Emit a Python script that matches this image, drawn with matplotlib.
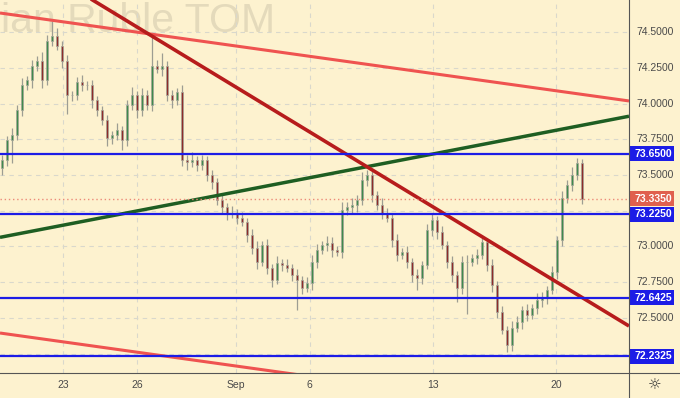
import matplotlib
matplotlib.use('Agg')
import matplotlib.pyplot as plt
from matplotlib.patches import Rectangle
from matplotlib.lines import Line2D

plt.rcParams['font.family'] = ['Liberation Sans', 'DejaVu Sans']

# candle data (USD/RUB TOM, about 5 bars per trading day, Aug 23 = day 0)
first_open = 73.55
closes = [73.603, 73.743, 73.778, 73.953, 74.128, 74.163, 74.267, 74.302, 74.163, 74.442,
          74.477, 74.407, 74.302, 74.058, 74.058, 74.149, 74.128, 74.128, 74.023, 73.953,
          73.883, 73.757, 73.778, 73.813, 73.743, 73.988, 74.058, 73.953, 74.058, 73.988,
          74.267, 74.246, 74.267, 74.058, 74.023, 74.079, 73.603, 73.589, 73.603, 73.568,
          73.603, 73.498, 73.449, 73.323, 73.274, 73.232, 73.232, 73.198, 73.170, 73.079,
          72.988, 72.890, 73.009, 72.848, 72.764, 72.883, 72.869, 72.848, 72.799, 72.764,
          72.708, 72.743, 72.890, 72.974, 73.009, 73.023, 72.974, 72.960, 73.253, 73.274,
          73.288, 73.323, 73.463, 73.498, 73.358, 73.288, 73.232, 73.198, 73.044, 72.939,
          72.960, 72.890, 72.799, 72.778, 72.869, 73.114, 73.184, 73.100, 73.009, 72.890,
          72.799, 72.708, 72.890, 72.890, 72.918, 72.939, 73.030, 72.869, 72.729, 72.540,
          72.414, 72.309, 72.428, 72.470, 72.554, 72.519, 72.568, 72.624, 72.638, 72.694,
          72.820, 73.044, 73.337, 73.428, 73.498, 73.582, 73.335]
wick_up = [0.04, 0.03, 0.05, 0.04, 0.05, 0.03, 0.04, 0.03, 0.06, 0.04,
           0.10, 0.05, 0.03, 0.04, 0.03, 0.04, 0.05, 0.03, 0.04, 0.03,
           0.03, 0.04, 0.03, 0.05, 0.03, 0.04, 0.06, 0.03, 0.05, 0.04,
           0.22, 0.04, 0.09, 0.03, 0.04, 0.03, 0.05, 0.04, 0.06, 0.03,
           0.04, 0.03, 0.04, 0.03, 0.04, 0.03, 0.05, 0.03, 0.04, 0.03,
           0.04, 0.05, 0.03, 0.04, 0.03, 0.05, 0.03, 0.04, 0.03, 0.04,
           0.03, 0.04, 0.05, 0.04, 0.03, 0.05, 0.04, 0.03, 0.06, 0.04,
           0.05, 0.04, 0.06, 0.035, 0.04, 0.03, 0.05, 0.04, 0.03, 0.04,
           0.03, 0.04, 0.03, 0.04, 0.03, 0.04, 0.05, 0.03, 0.04, 0.03,
           0.04, 0.03, 0.04, 0.05, 0.03, 0.04, 0.05, 0.03, 0.04, 0.03,
           0.04, 0.03, 0.05, 0.04, 0.03, 0.04, 0.03, 0.05, 0.04, 0.03,
           0.04, 0.03, 0.05, 0.04, 0.06, 0.04, 0.03]
wick_dn = [0.05, 0.04, 0.16, 0.03, 0.04, 0.03, 0.05, 0.04, 0.05, 0.03,
           0.04, 0.03, 0.05, 0.13, 0.04, 0.03, 0.04, 0.03, 0.05, 0.04,
           0.03, 0.05, 0.04, 0.03, 0.07, 0.04, 0.03, 0.05, 0.04, 0.03,
           0.04, 0.03, 0.05, 0.04, 0.05, 0.03, 0.04, 0.05, 0.03, 0.04,
           0.03, 0.04, 0.05, 0.03, 0.04, 0.05, 0.03, 0.04, 0.03, 0.05,
           0.04, 0.05, 0.03, 0.04, 0.05, 0.03, 0.04, 0.03, 0.04, 0.21,
           0.04, 0.03, 0.05, 0.04, 0.03, 0.04, 0.05, 0.03, 0.04, 0.03,
           0.04, 0.05, 0.03, 0.04, 0.05, 0.03, 0.04, 0.03, 0.05, 0.04,
           0.03, 0.04, 0.05, 0.08, 0.04, 0.03, 0.04, 0.05, 0.03, 0.04,
           0.05, 0.10, 0.04, 0.36, 0.03, 0.04, 0.03, 0.04, 0.05, 0.04,
           0.03, 0.05, 0.04, 0.03, 0.05, 0.04, 0.03, 0.04, 0.05, 0.04,
           0.03, 0.05, 0.04, 0.03, 0.04, 0.03, 0.035]

# horizontal levels and trend lines
levels = [73.65, 73.225, 72.6425, 72.2325]
last_price = 73.335
line_days = [-2.556, 22.96]
light_red_top = [74.635, 74.019]
light_red_low = [72.394, 71.778]
dark_red = [75.12, 72.443]
green_line = [73.064, 73.912]

price_ticks = [74.5, 74.25, 74.0, 73.75, 73.5, 73.0, 72.75, 72.5]
grid_prices = [74.5, 74.25, 74.0, 73.75, 73.5, 73.25, 73.0, 72.75, 72.5, 72.25]
date_days = [0, 3, 7, 10, 15, 20]
date_labels = ['23', '26', 'Sep', '6', '13', '20']

bg = '#fdf2cf'
first_bar = -2.46
bar_step = 0.2028

fig = plt.figure(figsize=(6.8, 3.98), dpi=100)
fig.patch.set_facecolor(bg)
ax = fig.add_axes([0, 25 / 398, 629 / 680, 373 / 398])
ax.set_facecolor(bg)
ax.set_xlim(line_days[0], line_days[1])
ax.set_ylim(72.114, 74.726)
for s in ax.spines.values():
    s.set_visible(False)
ax.set_xticks([])
ax.set_yticks([])

# watermark (symbol name, left part hidden off-screen in the original)
ax.text(1 / 629, 1 - 32 / 373, 'ian Ruble TOM', transform=ax.transAxes,
        ha='left', va='baseline', fontsize=29.5, color='#e4dabb', zorder=0)

# grid
ax.hlines(grid_prices, line_days[0], line_days[1], colors='#d9d8cc', lw=0.8,
          linestyles=(0, (4, 4)), zorder=1)
ax.vlines(date_days, 72.114, 74.726, colors='#d9d8cc', lw=0.8,
          linestyles=(0, (4, 4)), zorder=1)

# candles
opens = [first_open] + closes[:-1]
for i, (o, c) in enumerate(zip(opens, closes)):
    t = first_bar + i * bar_step
    hi = max(o, c) + wick_up[i]
    lo = min(o, c) - wick_dn[i]
    ax.vlines(t, lo, hi, colors='#9d9d92', lw=0.9, zorder=2)
    col = '#3f8a4c' if c >= o else '#8e2c2a'
    ax.add_patch(Rectangle((t - 0.045, min(o, c)), 0.09, max(abs(c - o), 0.004),
                           facecolor=col, edgecolor='#a5a59a', lw=0.5, zorder=3))

# trend lines
ax.plot(line_days, light_red_top, color='#ef5350', lw=2.2, zorder=4, solid_capstyle='butt')
ax.plot(line_days, light_red_low, color='#ef5350', lw=2.2, zorder=4, solid_capstyle='butt')
ax.plot(line_days, green_line, color='#1e5e22', lw=2.5, zorder=4, solid_capstyle='butt')
ax.plot(line_days, dark_red, color='#b71c1c', lw=2.6, zorder=5, solid_capstyle='butt')

# horizontal levels
ax.hlines(levels, line_days[0], line_days[1], colors='#1c1ce6', lw=1.6, zorder=6)
ax.hlines(last_price, line_days[0], line_days[1], colors='#ec8a78', lw=1.0,
          linestyles=(0, (1, 2)), zorder=6)

# right price scale
ytr = ax.get_yaxis_transform()
px_per_unit = 373 / (74.726 - 72.114)
box_h = 15 / px_per_unit
for p in price_ticks:
    ax.text(655 / 629, p, '%.4f' % p, transform=ytr, ha='center', va='center',
            fontsize=7.5, color='#4a4a4a', clip_on=False)
for p in levels:
    ax.add_patch(Rectangle((1.0, p - box_h / 2), 45 / 629, box_h, transform=ytr,
                           facecolor='#1c1ce6', edgecolor='none', clip_on=False, zorder=7))
    ax.text(653 / 629, p, '%.4f' % p, transform=ytr, ha='center', va='center',
            fontsize=7.5, color='white', fontweight='bold', clip_on=False, zorder=8)
ax.add_patch(Rectangle((1.0, last_price - box_h / 2), 45 / 629, box_h, transform=ytr,
                       facecolor='#e0604e', edgecolor='none', clip_on=False, zorder=7))
ax.text(653 / 629, last_price, '%.4f' % last_price, transform=ytr, ha='center', va='center',
        fontsize=7.5, color='white', fontweight='bold', clip_on=False, zorder=8)

# date scale
xtr = ax.get_xaxis_transform()
for d, lab in zip(date_days, date_labels):
    ax.text(d, -12 / 373, lab, transform=xtr, ha='center', va='center',
            fontsize=7.5, color='#4a4a4a', clip_on=False)
ax.text(655 / 629, -12 / 373, '☼', transform=ax.transAxes, ha='center', va='center',
        fontsize=11, color='#333333', family=['DejaVu Sans'], clip_on=False)

# scale borders
fig.add_artist(Line2D([0, 1], [25 / 398, 25 / 398], color='#555555', lw=0.8))
fig.add_artist(Line2D([629 / 680, 629 / 680], [0, 1], color='#555555', lw=0.8))

fig.savefig('out.png', dpi=100, facecolor=bg)
